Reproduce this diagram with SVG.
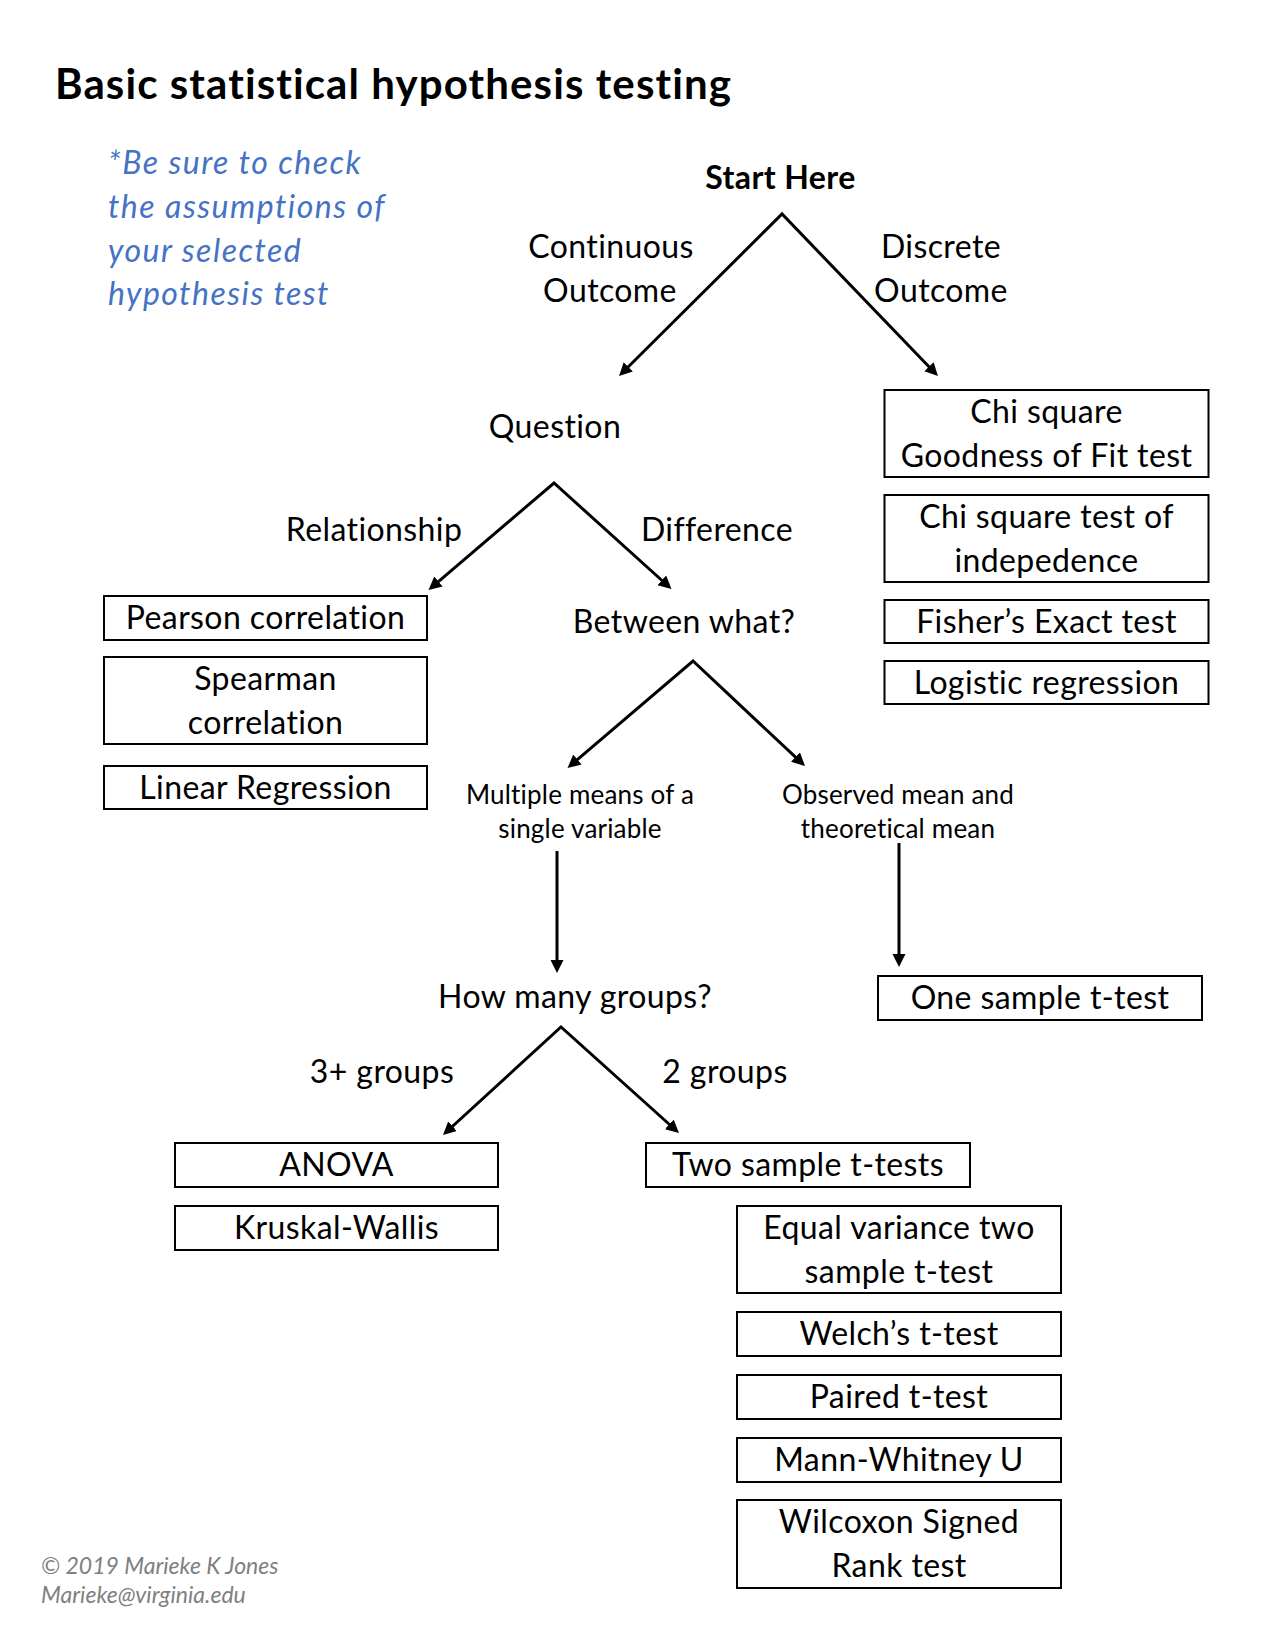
<svg xmlns="http://www.w3.org/2000/svg" width="1275" height="1650" viewBox="0 0 1275 1650">
<style>
text{font-family:Lato,"Liberation Sans",sans-serif;fill:#000}
.t{font-size:32px;letter-spacing:0.4px;text-anchor:middle}
.s{font-size:26px;letter-spacing:0.2px;text-anchor:middle}
.title{font-size:42px;font-weight:bold;letter-spacing:1.1px}
.b{font-weight:bold}
.note{font-size:32px;font-style:italic;letter-spacing:1.5px;fill:#4472C4}
.copy{font-size:23px;font-style:italic;fill:#7f7f7f}
rect{fill:#fff;stroke:#000;stroke-width:2}
.c path,.c line{fill:none;stroke:#000;stroke-width:3;stroke-linejoin:miter}
</style>
<defs>
<marker id="ah" markerUnits="userSpaceOnUse" markerWidth="14" markerHeight="14" refX="7" refY="6.5" orient="auto-start-reverse">
<path d="M0,0 L13,6.5 L0,13 Z" fill="#000"/>
</marker>
</defs>
<rect x="0" y="0" width="1275" height="1650" style="stroke:none"/>
<text class="title" x="55" y="99">Basic statistical hypothesis testing</text>
<g id="note">
<text class="note" x="108" y="174">*Be sure to check</text>
<text class="note" x="108" y="218">the assumptions of</text>
<text class="note" x="108" y="262">your selected</text>
<text class="note" x="108" y="305">hypothesis test</text>
</g>
<g class="c" id="connectors">
<path d="M623.3,371.8 L782,214 L933.8,371.7" marker-start="url(#ah)" marker-end="url(#ah)"/>
<path d="M433.1,586.1 L554,483 L667,585" marker-start="url(#ah)" marker-end="url(#ah)"/>
<path d="M572.1,764.1 L693,661 L800.6,761.9" marker-start="url(#ah)" marker-end="url(#ah)"/>
<line x1="557" y1="851" x2="557" y2="967" marker-end="url(#ah)"/>
<line x1="899" y1="843" x2="899" y2="961" marker-end="url(#ah)"/>
<path d="M447.4,1131 L561,1027 L674.5,1129" marker-start="url(#ah)" marker-end="url(#ah)"/>
</g>
<g id="labels">
<text class="t b" x="780.5" y="189">Start Here</text>
<text class="t" x="611" y="258">Continuous</text>
<text class="t" x="610" y="302">Outcome</text>
<text class="t" x="941" y="258">Discrete</text>
<text class="t" x="941" y="302">Outcome</text>
<text class="t" x="555" y="438">Question</text>
<text class="t" x="374" y="541">Relationship</text>
<text class="t" x="717" y="541">Difference</text>
<text class="t" x="684" y="633">Between what?</text>
<text class="s" x="580" y="804">Multiple means of a</text>
<text class="s" x="580" y="838">single variable</text>
<text class="s" x="898" y="804">Observed mean and</text>
<text class="s" x="898" y="838">theoretical mean</text>
<text class="t" x="575" y="1008">How many groups?</text>
<text class="t" x="382" y="1083">3+ groups</text>
<text class="t" x="725" y="1083">2 groups</text>
</g>
<g id="chi-gof"><rect x="884.5" y="390" width="324" height="87"/><text class="t" x="1046.5" y="423">Chi square</text><text class="t" x="1046.5" y="467">Goodness of Fit test</text></g>
<g id="chi-ind"><rect x="884.5" y="495" width="324" height="87"/><text class="t" x="1046.5" y="528">Chi square test of</text><text class="t" x="1046.5" y="572">indepedence</text></g>
<g id="fisher"><rect x="884.5" y="600" width="324" height="43"/><text class="t" x="1046.5" y="633">Fisher’s Exact test</text></g>
<g id="logistic"><rect x="884.5" y="661" width="324" height="43"/><text class="t" x="1046.5" y="694">Logistic regression</text></g>
<g id="pearson"><rect x="104" y="596" width="323" height="44"/><text class="t" x="265.5" y="629">Pearson correlation</text></g>
<g id="spearman"><rect x="104" y="657" width="323" height="87"/><text class="t" x="265.5" y="690">Spearman</text><text class="t" x="265.5" y="734">correlation</text></g>
<g id="linear"><rect x="104" y="766" width="323" height="43"/><text class="t" x="265.5" y="799">Linear Regression</text></g>
<g id="one-sample"><rect x="878" y="976" width="324" height="44"/><text class="t" x="1040" y="1009">One sample t-test</text></g>
<g id="anova"><rect x="175" y="1143" width="323" height="44"/><text class="t" x="336.5" y="1176">ANOVA</text></g>
<g id="kruskal"><rect x="175" y="1206" width="323" height="44"/><text class="t" x="336.5" y="1239">Kruskal-Wallis</text></g>
<g id="two-sample"><rect x="646" y="1143" width="324" height="44"/><text class="t" x="808" y="1176">Two sample t-tests</text></g>
<g id="equal-var"><rect x="737" y="1206" width="324" height="87"/><text class="t" x="899" y="1239">Equal variance two</text><text class="t" x="899" y="1283">sample t-test</text></g>
<g id="welch"><rect x="737" y="1312" width="324" height="44"/><text class="t" x="899" y="1345">Welch’s t-test</text></g>
<g id="paired"><rect x="737" y="1375" width="324" height="44"/><text class="t" x="899" y="1408">Paired t-test</text></g>
<g id="mann"><rect x="737" y="1438" width="324" height="44"/><text class="t" x="899" y="1471">Mann-Whitney U</text></g>
<g id="wilcoxon"><rect x="737" y="1500" width="324" height="88"/><text class="t" x="899" y="1533">Wilcoxon Signed</text><text class="t" x="899" y="1577">Rank test</text></g>
<g id="copyright">
<text class="copy" x="41" y="1574">© 2019 Marieke K Jones</text>
<text class="copy" x="41" y="1603">Marieke@virginia.edu</text>
</g>
</svg>
